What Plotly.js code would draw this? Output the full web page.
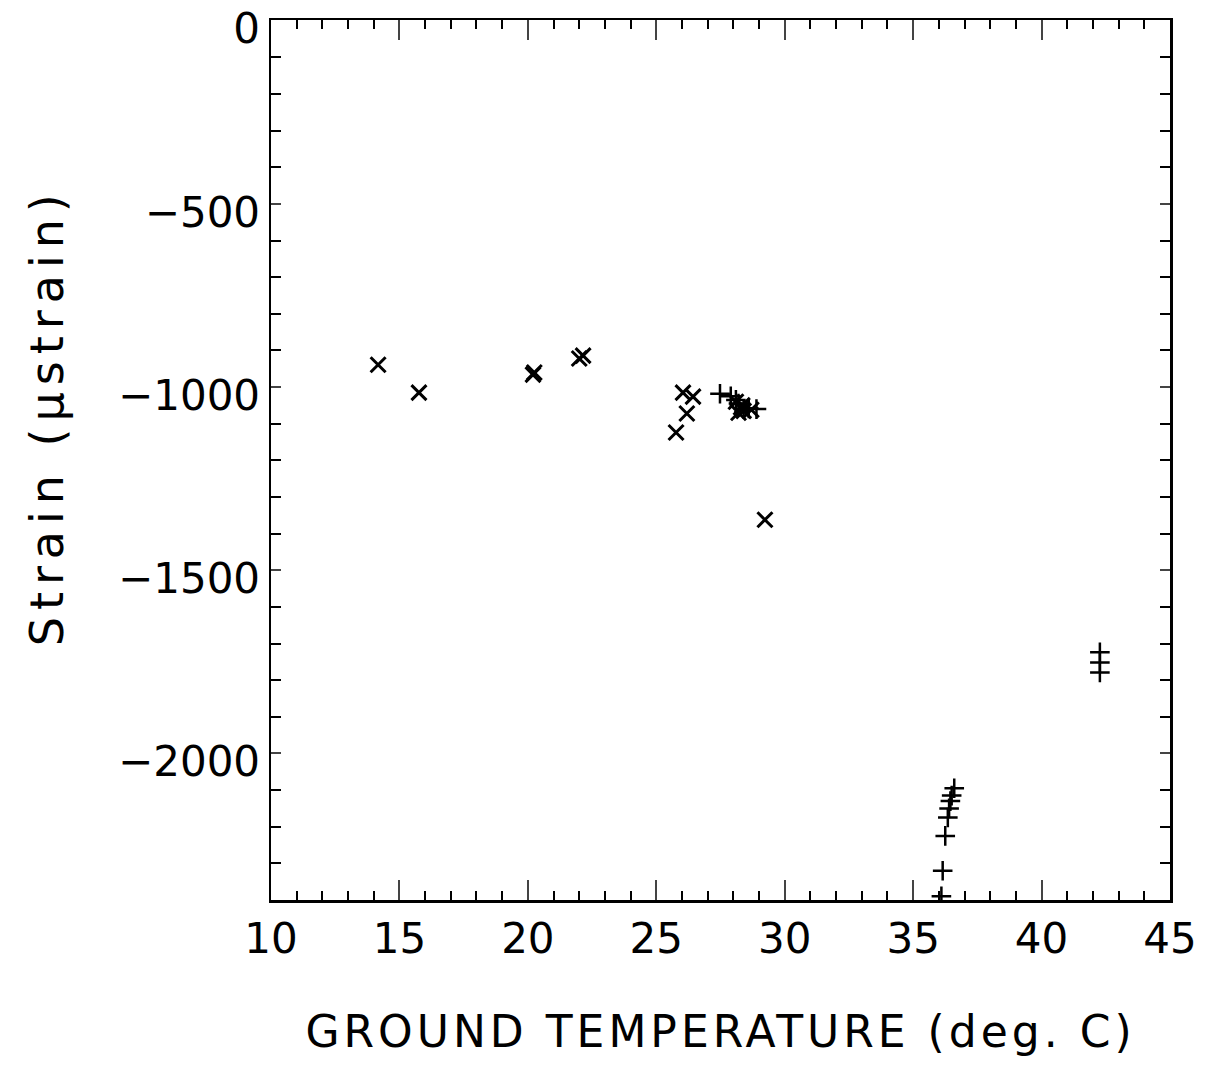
<!DOCTYPE html>
<html>
<head>
<meta charset="utf-8">
<script src="https://cdn.plot.ly/plotly-3.0.1.min.js"></script>
<style>html,body{margin:0;padding:0;background:#fff;}#chart{width:1213px;height:1065px;}</style>
</head>
<body>
<div id="chart"></div>
<script>
// Series drawn with "x" markers
const xTemp = [14.17, 15.76, 20.2, 20.25, 22.0, 22.15, 26.04, 26.43, 26.19, 25.77, 29.23,
               28.1, 28.3, 28.4, 28.2, 28.7, 28.35];
const xStrain = [-939, -1015, -966, -960, -922, -914, -1015, -1026, -1072, -1124, -1362,
                 -1040, -1055, -1065, -1070, -1062, -1050];
// Series drawn with "+" markers
const pTemp = [27.48, 27.9, 28.1, 28.2, 28.4, 28.6, 28.9,
               36.6, 36.5, 36.45, 36.4, 36.35, 36.25, 36.15, 36.1,
               42.27, 42.27, 42.27];
const pStrain = [-1018, -1025, -1035, -1045, -1060, -1058, -1060,
                 -2095, -2115, -2130, -2150, -2175, -2225, -2320, -2390,
                 -1724, -1752, -1779];
const xTickVals = [10, 15, 20, 25, 30, 35, 40, 45];
const yTickVals = [0, -500, -1000, -1500, -2000];
const yTickText = ['0', '\u2212500', '\u22121000', '\u22121500', '\u22122000'];

const font = {family: 'DejaVu Sans, sans-serif', color: '#000'};

const traces = [
  {x: xTemp, y: xStrain, mode: 'markers', type: 'scatter',
   marker: {symbol: 'x-thin-open', size: 15, line: {width: 3, color: '#000'}, color: '#000'}},
  {x: pTemp, y: pStrain, mode: 'markers', type: 'scatter',
   marker: {symbol: 'cross-thin-open', size: 14, line: {width: 2.5, color: '#000'}, color: '#000'}}
];

const layout = {
  width: 1213, height: 1065,
  margin: {l: 271, r: 43, t: 20, b: 165},
  paper_bgcolor: '#fff', plot_bgcolor: '#fff',
  showlegend: false,
  xaxis: {
    range: [10, 45], tickvals: xTickVals, ticks: 'inside', ticklen: 20, tickwidth: 2,
    minor: {dtick: 1, ticks: 'inside', ticklen: 9, tickwidth: 2, tickcolor: '#000', showgrid: false},
    showline: true, linewidth: 2.5, linecolor: '#000', mirror: 'allticks', showgrid: false, zeroline: false,
    tickfont: Object.assign({size: 42}, font), ticklabeloverflow: 'allow',
    title: {text: '<span style="letter-spacing:4px">GROUND TEMPERATURE (deg. C)</span>', font: Object.assign({size: 44}, font), standoff: 55}
  },
  yaxis: {
    range: [-2400, 2], tickvals: yTickVals, ticktext: yTickText, ticks: 'inside', ticklen: 10, tickwidth: 2,
    minor: {dtick: 100, ticks: 'inside', ticklen: 10, tickwidth: 2, tickcolor: '#000', showgrid: false},
    showline: true, linewidth: 2.5, linecolor: '#000', mirror: 'allticks', showgrid: false, zeroline: false,
    tickfont: Object.assign({size: 42}, font), ticklabeloverflow: 'allow', ticklabelshift: 8,
    title: {text: '<span style="letter-spacing:7px">&nbsp;&nbsp;&nbsp;&nbsp;Strain (\u03bcstrain)</span>', font: Object.assign({size: 46}, font), standoff: 40}
  }
};

Plotly.newPlot('chart', traces, layout, {staticPlot: true});
</script>
</body>
</html>
